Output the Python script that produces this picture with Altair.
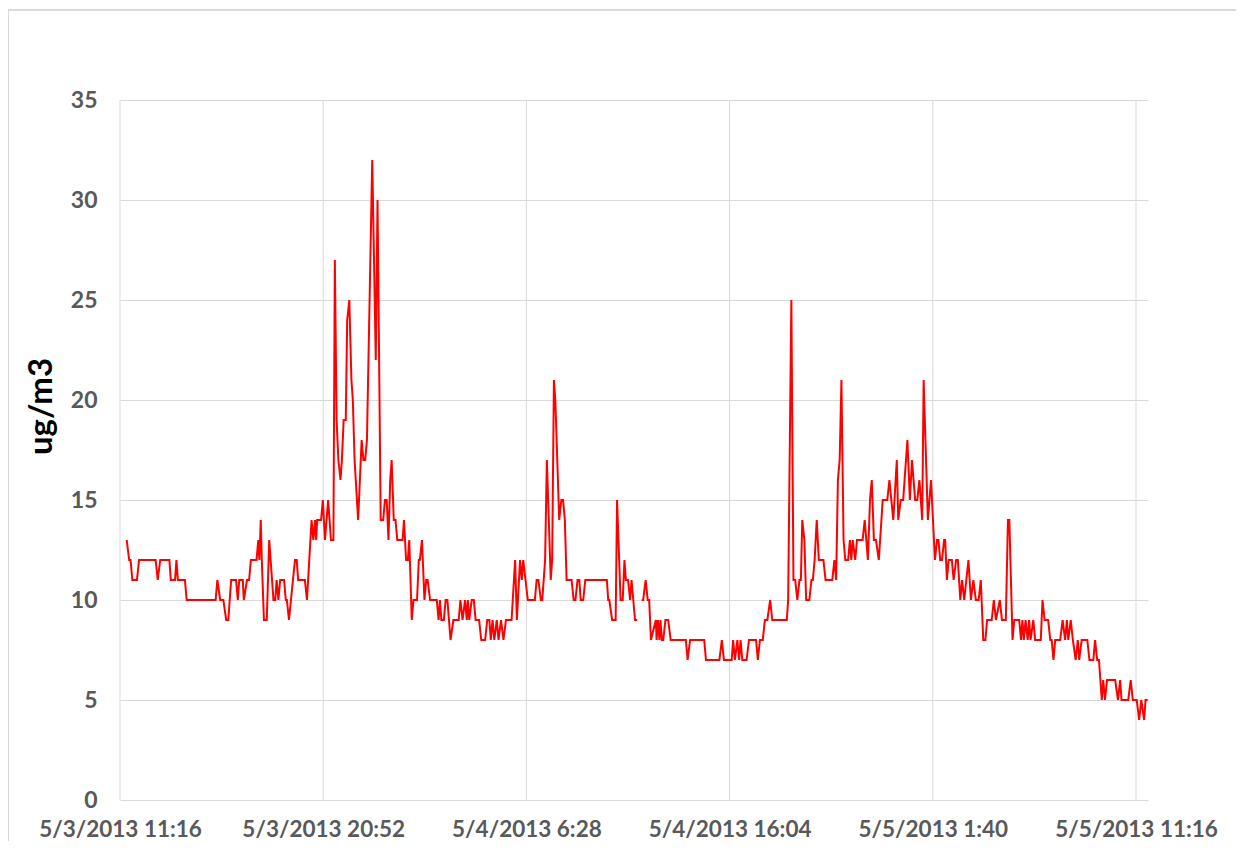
import altair as alt
import pandas as pd

# Elapsed minutes since 5/3/2013 11:16 and PM concentration (ug/m3).
# A None value marks the short gap in the record.
minutes = [
    19, 26, 30, 35, 48, 54, 101, 107, 114, 140, 144, 156, 160, 164, 184, 189,
    271, 276, 284, 293, 301, 307, 315, 329, 334, 338, 348, 351, 360, 366, 371,
    387, 392, 395, 399, 402, 408, 416, 423, 435, 440, 444, 449, 454, 465, 470,
    473, 479, 496, 501, 505, 524, 530, 543, 548, 553, 556, 559, 570, 575, 581,
    590, 598, 605, 609, 614, 619, 625, 629, 634, 640, 644, 650, 656, 660, 665,
    675, 685, 690, 695, 700, 715, 725, 730, 739, 746, 751, 756, 761, 766, 770,
    776, 781, 786, 801, 805, 811, 816, 820, 827, 832, 842, 847, 850, 856, 863,
    868, 872, 879, 898, 903, 907, 911, 918, 923, 928, 937, 945, 960, 965, 971,
    978, 983, 986, 990, 997, 1003, 1008, 1018, 1024, 1035, 1041, 1047, 1051,
    1056, 1061, 1068, 1073, 1080, 1087, 1094, 1110, 1120, 1125, 1134, 1139,
    1143, 1156, 1176, 1181, 1186, 1193, 1197, 1205, 1210, 1221, 1225, 1230,
    1234, 1245, 1251, 1256, 1261, 1266, 1280, 1286, 1291, 1297, 1302, 1306,
    1313, 1319, 1380, 1384, 1387, 1395, 1405, 1409, 1419, 1425, 1430, 1434,
    1440, 1446, 1450, 1460, 1466,
    1472,
    1479, 1483, 1490, 1496, 1500, 1505, 1519, 1521, 1525, 1529, 1532, 1536,
    1540, 1546, 1554, 1561, 1604, 1609, 1616, 1656, 1661, 1699, 1706, 1712,
    1734, 1738, 1743, 1750, 1755, 1759, 1764, 1776, 1783, 1803, 1808, 1814,
    1822, 1828, 1835, 1843, 1849, 1890, 1894, 1903, 1909, 1914, 1920, 1926,
    1930, 1934, 1940, 1945, 1954, 1960, 1964, 1969, 1975, 1981, 1994, 2000,
    2019, 2025, 2030, 2035, 2040, 2045, 2051, 2056, 2064, 2069, 2073, 2077,
    2084, 2089, 2105, 2111, 2120, 2126, 2131, 2137, 2143, 2151, 2162, 2175,
    2181, 2192, 2202, 2206, 2213, 2220, 2232, 2239, 2245, 2254, 2260, 2266,
    2274, 2278, 2290, 2299, 2310, 2316, 2320, 2325, 2330, 2336, 2339, 2344,
    2349, 2358, 2363, 2370, 2375, 2382, 2387, 2393, 2405, 2412, 2419, 2426,
    2434, 2440, 2447, 2453, 2458, 2471, 2477, 2483, 2494, 2500, 2511, 2517,
    2521, 2530, 2535, 2549, 2554, 2558, 2562, 2567, 2573, 2577, 2581, 2589,
    2594, 2610, 2615, 2621, 2631, 2637, 2641, 2646, 2651, 2665, 2672, 2679,
    2684, 2688, 2695, 2701, 2709, 2715, 2719, 2726, 2742, 2748, 2759, 2764,
    2770, 2775, 2783, 2787, 2792, 2798, 2821, 2829, 2835, 2839, 2858, 2865,
    2871, 2882, 2889, 2895, 2903, 2907, 2913,
]
values = [
    13, 12, 12, 11, 11, 12, 12, 11, 12, 12, 11, 11, 12, 11, 11, 10,
    10, 11, 10, 10, 9, 9, 11, 11, 10, 11, 11, 10, 11, 11, 12,
    12, 13, 12, 14, 12, 9, 9, 13, 10, 10, 11, 10, 11, 11, 10,
    10, 9, 12, 12, 11, 11, 10, 14, 13, 14, 13, 14, 14, 15, 13,
    15, 13, 13, 27, 19, 17, 16, 17, 19, 19, 24, 25, 21, 20, 17,
    14, 18, 17, 17, 18, 32, 22, 30, 14, 14, 15, 15, 13, 16, 17,
    14, 14, 13, 13, 14, 12, 12, 13, 9, 10, 10, 12, 12, 13, 10,
    11, 11, 10, 10, 9, 10, 9, 9, 10, 10, 8, 9, 9, 10, 9,
    10, 9, 10, 9, 10, 10, 9, 9, 8, 8, 9, 9, 8,
    9, 8, 9, 8, 9, 8, 9, 9, 12, 9, 12, 11,
    12, 10, 10, 11, 11, 10, 10, 12, 17, 11, 12, 21,
    20, 14, 15, 15, 14, 11, 11, 10, 10, 11, 11, 10,
    10, 11, 11, 10, 10, 9, 9, 15, 10, 10, 12, 11,
    11, 10, 11, 9, 9,
    None,
    10, 10, 11, 10, 10, 8, 9, 8, 9, 8, 9, 8,
    8, 9, 9, 8, 8, 7, 8, 8, 7, 7, 8, 7,
    7, 8, 7, 8, 7, 8, 7, 7, 8, 8, 7, 8,
    8, 9, 9, 10, 9, 9, 10, 25, 11, 11, 10, 11,
    11, 14, 13, 10, 10, 11, 11, 12, 14, 12, 12, 11,
    11, 12, 11, 16, 17, 21, 13, 12, 12, 13, 12, 13,
    12, 13, 13, 14, 12, 15, 16, 13, 13, 12, 15, 15,
    16, 14, 17, 14, 15, 15, 18, 15, 17, 15, 15, 16,
    14, 21, 14, 16, 12, 13, 13, 12, 12, 13, 13, 11,
    12, 12, 11, 12, 12, 10, 11, 10, 12, 10, 11, 10,
    10, 11, 8, 8, 9, 9, 10, 9, 10, 9, 9, 14,
    14, 8, 9, 9, 8, 9, 8, 9, 8, 9, 8, 9,
    8, 8, 10, 9, 9, 8, 8, 7, 8, 8, 9, 8,
    9, 8, 9, 8, 7, 8, 7, 8, 8, 7, 7, 8,
    7, 7, 5, 6, 5, 6, 6, 5, 6, 5, 5, 6,
    5, 5, 4, 5, 4, 5, 5,
]

tick_minutes = [0, 576, 1152, 1728, 2304, 2880]
tick_labels = ["5/3/2013 11:16", "5/3/2013 20:52", "5/4/2013 6:28",
               "5/4/2013 16:04", "5/5/2013 1:40", "5/5/2013 11:16"]
y_ticks = [0, 5, 10, 15, 20, 25, 30, 35]

rows = []
part = 0
for m, v in zip(minutes, values):
    if v is None:
        part += 1
        continue
    rows.append({"minute": m, "value": v, "part": part})
df = pd.DataFrame(rows)
ticks_df = pd.DataFrame({"minute": tick_minutes})

label_expr = ("[" + ",".join("'" + s + "'" for s in tick_labels) + "]"
              "[indexof([" + ",".join(str(t) for t in tick_minutes) + "], datum.value)]")

FONT = "Lato"
GRID = "#d9d9d9"
LABEL = "#595959"

x_scale = alt.Scale(domain=[0, 2914], nice=False, zero=False)

line = alt.Chart(df).mark_line(color="#ff0000", strokeWidth=2).encode(
    x=alt.X(
        "minute:Q",
        scale=x_scale,
        axis=alt.Axis(
            values=tick_minutes, labelExpr=label_expr, title=None,
            grid=False, domain=False,
            ticks=False, tickSize=0, labelPadding=36,
            labelBaseline="alphabetic", labelFont=FONT, labelFontSize=22.5,
            labelFontWeight="bold", labelColor=LABEL, labelOverlap=False,
            labelFlush=False,
        ),
    ),
    y=alt.Y(
        "value:Q",
        scale=alt.Scale(domain=[0, 35], nice=False),
        axis=alt.Axis(
            values=y_ticks, title="ug/m3", grid=True, gridColor=GRID,
            gridWidth=1, domain=False, ticks=False, tickSize=0,
            labelPadding=23, labelFont=FONT, labelFontSize=23,
            labelFontWeight="bold", labelColor=LABEL,
            titleFont=FONT, titleFontSize=33, titleFontWeight="bold",
            titleColor="#000000", titleAngle=270, titleBaseline="alphabetic",
            titleX=-69, titleY=306, titleAlign="center",
        ),
    ),
    detail="part:N",
)

x_grid = alt.Chart(ticks_df).mark_rule(color=GRID, strokeWidth=1).encode(
    x=alt.X("minute:Q", scale=x_scale),
    y=alt.value(0), y2=alt.value(700),
)

frame_top = alt.Chart(ticks_df).mark_rule(color=GRID, strokeWidth=1).encode(
    x=alt.value(-111.5), x2=alt.value(1116), y=alt.value(-90)
)
frame_left = alt.Chart(ticks_df).mark_rule(color=GRID, strokeWidth=1).encode(
    x=alt.value(-111.5), y=alt.value(-90), y2=alt.value(745)
)

chart = alt.layer(frame_top, frame_left, x_grid, line).properties(
    width=1028, height=700,
    background="white",
    padding={"left": 112, "top": 92, "right": 88, "bottom": 41},
    autosize=alt.AutoSizeParams(type="none"),
).configure_view(strokeWidth=0)

chart.save("out.html", embed_options={"renderer": "svg", "actions": False})
